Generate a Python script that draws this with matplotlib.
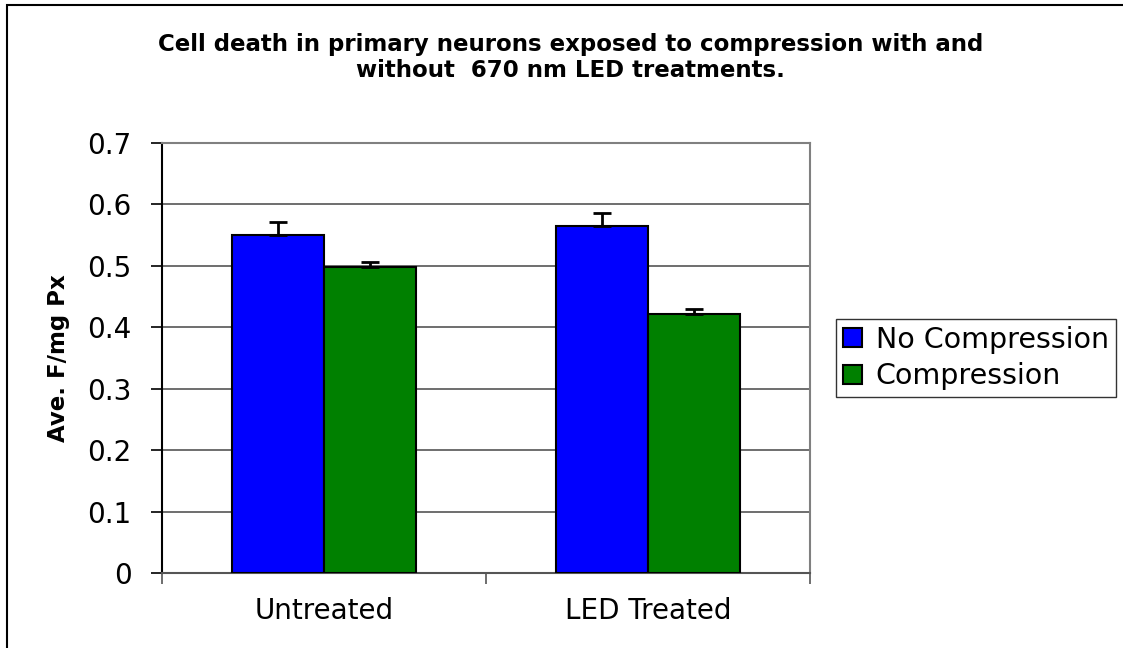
import matplotlib.pyplot as plt
import numpy as np
from matplotlib.patches import Rectangle

# Cell death assay: average fluorescence per mg protein, with/without compression
groups = ['Untreated', 'LED Treated']
no_compression = [0.550, 0.565]
no_compression_err = [0.021, 0.021]
compression = [0.498, 0.421]
compression_err = [0.008, 0.009]

fig = plt.figure(figsize=(11.23, 6.48), dpi=100)
ax = fig.add_axes([0.1443, 0.1157, 0.5770, 0.6636])

# outer chart frame (only left and top edges fall inside the image)
fig.patches.append(Rectangle((7 / 1123, -0.1), 1.2, 0.1 + (648 - 5) / 648,
                             transform=fig.transFigure, fill=False,
                             edgecolor='black', linewidth=1.5))

x = np.arange(len(groups))
w = 0.284
err_style = dict(ecolor='black', elinewidth=2, capsize=6.5, capthick=2)
ax.bar(x - w / 2, no_compression, w, yerr=[[0, 0], no_compression_err],
       color='#0000ff', edgecolor='black', linewidth=1.5,
       label='No Compression', error_kw=err_style, zorder=3)
ax.bar(x + w / 2, compression, w, yerr=[[0, 0], compression_err],
       color='#008000', edgecolor='black', linewidth=1.5,
       label='Compression', error_kw=err_style, zorder=3)

ax.set_xlim(-0.5, 1.5)
ax.set_ylim(0, 0.7)
ax.set_yticks(np.arange(0, 0.71, 0.1))
ax.set_yticklabels(['0', '0.1', '0.2', '0.3', '0.4', '0.5', '0.6', '0.7'])
ax.yaxis.grid(True, color='#555555', linewidth=1.2, zorder=0)
ax.set_axisbelow(True)

# category labels in the middle, ticks on the category boundaries
ax.set_xticks([-0.5, 0.5, 1.5])
ax.set_xticklabels([])
ax.set_xticks(x, minor=True)
ax.set_xticklabels(groups, minor=True, fontsize=20)
ax.tick_params(axis='x', which='minor', length=0, pad=17)
ax.tick_params(axis='x', which='major', direction='out', length=8, width=1.2, color='#555555')
ax.tick_params(axis='y', direction='out', length=8, width=1.2, labelsize=20, pad=14)

ax.spines['left'].set_color('black')
ax.spines['left'].set_linewidth(1.5)
ax.spines['bottom'].set_color('#555555')
ax.spines['bottom'].set_linewidth(1.5)
for s in ['top', 'right']:
    ax.spines[s].set_color('#808080')
    ax.spines[s].set_linewidth(1.5)

ax.set_ylabel('Ave. F/mg Px', fontsize=16.5, fontweight='bold', labelpad=12)

fig.text(0.508, 0.911, 'Cell death in primary neurons exposed to compression with and\n'
         'without  670 nm LED treatments.', ha='center', va='center',
         fontsize=16.5, fontweight='bold', linespacing=1.2)

leg = ax.legend(loc='center left', bbox_to_anchor=(1.04, 0.5), fontsize=20.5,
                frameon=True, fancybox=False, edgecolor='black',
                handlelength=0.65, handleheight=0.65, handletextpad=0.5,
                borderpad=0.25, labelspacing=0.3, borderaxespad=0)
leg.get_frame().set_linewidth(1.0)

fig.savefig('out.png', dpi=100)
